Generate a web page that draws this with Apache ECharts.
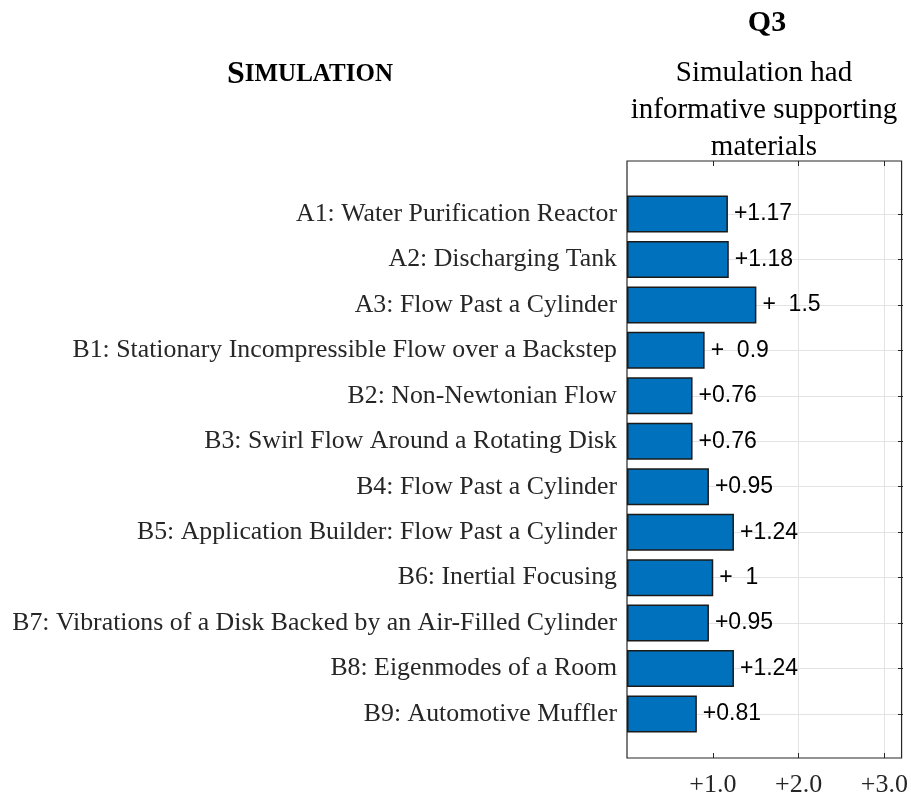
<!DOCTYPE html>
<html lang="en">
<head>
    <meta charset="UTF-8">
    <title>Simulation Q3</title>
    <script src="https://cdn.jsdelivr.net/npm/echarts@6/dist/echarts.min.js"></script>
    <style>
        html, body { margin: 0; padding: 0; background: #fff; }
        #main { width: 911px; height: 798px; }
    </style>
</head>
<body>
<div id="main"></div>
<script>
    // 数据
    var simNames = [
        'A1: Water Purification Reactor',
        'A2: Discharging Tank',
        'A3: Flow Past a Cylinder',
        'B1: Stationary Incompressible Flow over a Backstep',
        'B2: Non-Newtonian Flow',
        'B3: Swirl Flow Around a Rotating Disk',
        'B4: Flow Past a Cylinder',
        'B5: Application Builder: Flow Past a Cylinder',
        'B6: Inertial Focusing',
        'B7: Vibrations of a Disk Backed by an Air-Filled Cylinder',
        'B8: Eigenmodes of a Room',
        'B9: Automotive Muffler'
    ];
    var q3Values = [1.17, 1.18, 1.5, 0.9, 0.76, 0.76, 0.95, 1.24, 1, 0.95, 1.24, 0.81];
    var xTicks = [1, 2, 3];

    var serif = '"Liberation Serif", "Times New Roman", serif';
    var sans = '"Liberation Sans", Arial, sans-serif';
    var tickColor = '#262626';

    // 柱子右边的数值，短的数字前面留空
    function barLabel(v) {
        var s = String(v);
        return '+' + (s.length < 4 ? '  ' : '') + s;
    }

    var myChart = echarts.init(document.getElementById('main'));
    myChart.setOption({
        animation: false,
        title: [
            { text: 'Q3', left: 767, top: 8, textAlign: 'center', padding: 0,
              textStyle: { fontFamily: serif, fontSize: 30, fontWeight: 'bold', color: '#000' } },
            { text: 'Simulation had\ninformative supporting\nmaterials', left: 764, top: 55, textAlign: 'center', padding: 0,
              textStyle: { fontFamily: serif, fontSize: 29, fontWeight: 'normal', color: '#000', lineHeight: 37 } },
            { text: '{a|S}{b|IMULATION}', left: 227, top: 59, padding: 0,
              textStyle: { rich: {
                  a: { fontFamily: serif, fontSize: 32, fontWeight: 'bold', color: '#000' },
                  b: { fontFamily: serif, fontSize: 25, fontWeight: 'bold', color: '#000' }
              } } }
        ],
        grid: [
            // 外框
            { left: 627, right: 8, top: 161, bottom: 36, show: true, borderColor: tickColor, borderWidth: 1.2, backgroundColor: 'transparent' },
            // 柱子
            { left: 627, right: 8, top: 214, bottom: 84 }
        ],
        xAxis: [
            {
                gridIndex: 0, type: 'value', min: 0, max: 3.2, interval: 1,
                axisLine: { show: false },
                axisTick: { show: true, inside: true, length: 5, lineStyle: { color: tickColor }, customValues: xTicks },
                splitLine: { show: true, lineStyle: { color: '#e3e3e3' }, showMinLine: false },
                axisLabel: {
                    customValues: xTicks, margin: 14,
                    formatter: function (v) { return '+' + v.toFixed(1); },
                    fontFamily: serif, fontSize: 26, color: tickColor
                }
            },
            {
                gridIndex: 0, type: 'value', min: 0, max: 3.2, interval: 1, position: 'top',
                axisLine: { show: false }, axisLabel: { show: false }, splitLine: { show: false },
                axisTick: { show: true, inside: true, length: 5, lineStyle: { color: tickColor }, customValues: xTicks }
            },
            { gridIndex: 1, type: 'value', min: 0, max: 3.2, show: false }
        ],
        yAxis: [
            { gridIndex: 0, type: 'value', show: false },
            {
                // 文字和网格线
                gridIndex: 1, type: 'category', data: simNames, inverse: true, boundaryGap: false,
                axisLine: { show: false }, axisTick: { show: false },
                splitLine: { show: true, lineStyle: { color: '#e3e3e3' } },
                axisLabel: { margin: 10, fontFamily: serif, fontSize: 25.8, color: tickColor }
            },
            {
                // 左边刻度，压在柱子上面
                gridIndex: 1, type: 'category', data: simNames, inverse: true, boundaryGap: false, z: 5,
                axisLine: { show: false }, axisLabel: { show: false }, splitLine: { show: false },
                axisTick: { show: true, inside: true, length: 5, lineStyle: { color: tickColor } }
            },
            {
                gridIndex: 1, type: 'category', data: simNames, inverse: true, boundaryGap: false, position: 'right',
                axisLine: { show: false }, axisLabel: { show: false }, splitLine: { show: false },
                axisTick: { show: true, inside: true, length: 5, lineStyle: { color: tickColor } }
            }
        ],
        series: [{
            type: 'bar',
            xAxisIndex: 2,
            yAxisIndex: 1,
            data: q3Values,
            barWidth: 37,
            clip: false,
            z: 3,
            itemStyle: { color: '#0072BD', borderColor: '#1a1a1a', borderWidth: 1.5 },
            label: {
                show: true, position: 'right', distance: 6,
                fontFamily: sans, fontSize: 23, color: '#000',
                formatter: function (p) { return barLabel(p.value); }
            }
        }]
    });
</script>
</body>
</html>
